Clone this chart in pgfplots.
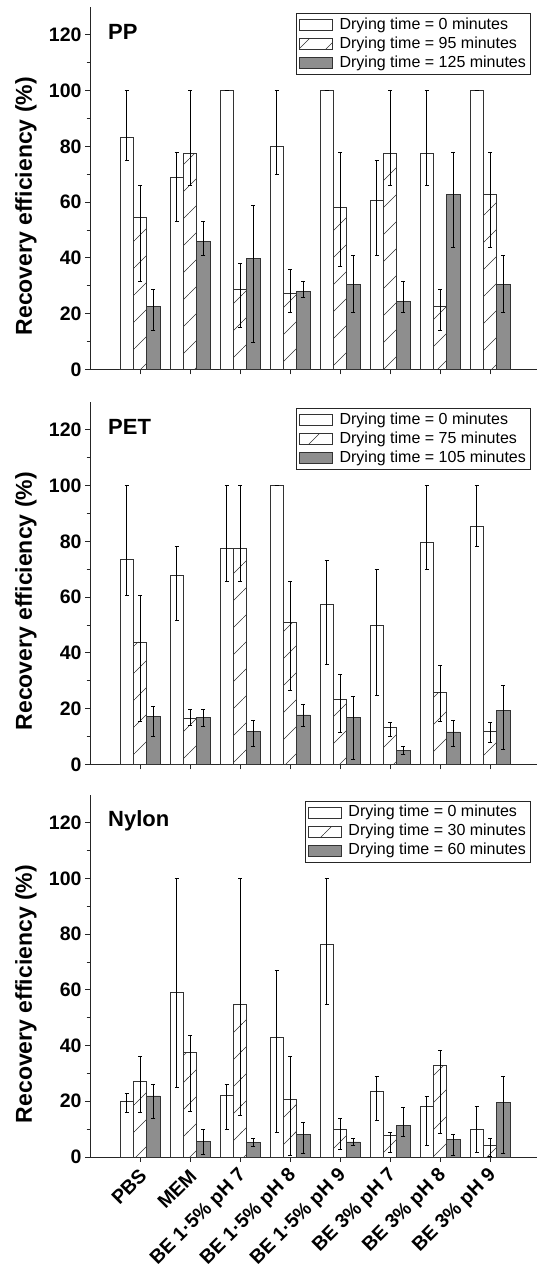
\documentclass[border=0pt]{standalone}
\usepackage{fontspec}
\setmainfont{Liberation Sans}
\usepackage{pgfplots}
\usepackage{pgfplotstable}
\pgfplotsset{compat=1.18}
\usetikzlibrary{patterns.meta}
\definecolor{barfill}{HTML}{8E8E8E}
\definecolor{edge}{HTML}{333333}
\tikzdeclarepattern{name=sparseNE, type=uncolored,
  bounding box={(0pt,0pt) and (27pt,27pt)}, tile size={(27pt,27pt)},
  code={\draw[line width=0.6pt] (-1pt,-1pt) -- (28pt,28pt);}}

% PP
\pgfplotstableread{
x y lo hi
0 83.3 75.1 100
1 68.7 53.0 78.0
2 100 100 100
3 79.9 69.9 100
4 100 100 100
5 60.6 40.8 75.1
6 77.3 65.9 100
7 100 100 100
}\ppA
\pgfplotstableread{
x y lo hi
0 54.5 31.6 65.9
1 77.3 65.9 100
2 28.6 15.0 37.9
3 27.2 20.6 35.8
4 58.1 37.0 78.0
5 77.3 65.9 100
6 22.6 13.8 28.6
7 62.6 43.9 78.0
}\ppB
\pgfplotstableread{
x y lo hi
0 22.6 13.8 28.6
1 46.0 40.8 53.0
2 39.9 9.7 58.8
3 27.8 25.8 31.7
4 30.5 20.6 40.8
5 24.4 20.6 31.7
6 62.6 43.9 78.0
7 30.5 20.6 40.8
}\ppC
% PET
\pgfplotstableread{
x y lo hi
0 73.7 60.6 100
1 67.7 51.6 78.2
2 77.3 65.8 100
3 100 100 100
4 57.3 35.9 73.3
5 49.9 24.9 69.8
6 79.8 69.8 100
7 85.4 78.2 100
}\petA
\pgfplotstableread{
x y lo hi
0 43.9 15.3 60.6
1 16.5 13.8 19.7
2 77.3 65.8 100
3 51.0 26.6 65.8
4 23.3 11.6 32.3
5 13.1 9.9 15.0
6 25.7 15.5 35.4
7 11.9 7.8 15.0
}\petB
\pgfplotstableread{
x y lo hi
0 17.3 9.9 20.9
1 16.7 13.5 19.7
2 11.7 6.6 15.6
3 17.7 13.7 21.5
4 16.8 1.9 24.5
5 5.1 3.6 6.3
6 11.6 6.6 15.6
7 19.2 5.4 28.4
}\petC
% Nylon
\pgfplotstableread{
x y lo hi
0 19.8 15.9 22.8
1 59.1 24.9 100
2 22.1 9.9 26.0
3 42.9 8.8 67.1
4 76.4 54.7 100
5 23.5 13.3 28.8
6 18.2 4.2 21.7
7 10.0 1.5 18.2
}\nyA
\pgfplotstableread{
x y lo hi
0 27.3 15.9 36.2
1 37.5 16.3 43.7
2 54.9 15.0 100
3 20.7 0.7 36.2
4 10.0 2.6 13.7
5 7.7 1.5 8.8
6 32.8 8.5 38.3
7 4.2 0.4 6.7
}\nyB
\pgfplotstableread{
x y lo hi
0 21.9 13.8 26.0
1 5.6 1.0 9.9
2 5.1 3.7 6.7
3 8.1 1.3 12.4
4 5.4 4.2 6.6
5 11.4 7.5 17.8
6 6.2 0.6 8.1
7 19.5 1.3 28.8
}\nyC

\pgfplotsset{
  panel/.style={
    anchor=south west, scale only axis, width=447pt, height=362.3pt,
    xmin=-1, xmax=7.94, ymin=0, ymax=130,
    axis lines*=left, axis line style={-, line width=0.8pt, black!85},
    ybar, bar width=0.2667,
    xtick={0,...,7}, ytick={0,20,...,120}, minor ytick={10,30,...,110},
    tick align=outside, major tick length=5pt, minor tick length=3.5pt,
    tick style={black!85, line width=0.8pt},
    /pgf/number format/assume math mode=true,
    ticklabel style={font=\bfseries\fontsize{19.5}{19.5}\selectfont},
    ylabel={Recovery efficiency (\%)},
    ylabel style={font=\bfseries\fontsize{23}{23}\selectfont, at={(axis description cs:-0.1298,0.45)}, anchor=base},
    legend style={at={(0.985,0.983)}, anchor=north east, draw=black!85, line width=0.8pt,
      font=\fontsize{16}{16}\selectfont, inner sep=2pt, row sep=0pt,
      nodes={inner sep=2pt, text height=11.5pt, text depth=3.5pt},
      /tikz/every odd column/.append style={column sep=5pt}},
    legend cell align=left,
    legend image code/.code={\draw[#1, line width=0.8pt] (0pt,-5.5pt) rectangle (33pt,5.5pt);},
    error bars/error bar style={black, line width=0.7pt},
    error bars/error mark options={rotate=90, mark size=2pt, line width=0.7pt, black},
  },
  serA/.style={draw=edge, fill=white, line width=0.8pt, bar shift=-0.2667,
    error bars/.cd, y dir=both, y explicit},
  serB/.style={draw=edge, pattern=sparseNE, pattern color=edge, line width=0.8pt, bar shift=0,
    error bars/.cd, y dir=both, y explicit},
  serC/.style={draw=edge, fill=barfill, line width=0.8pt, bar shift=0.2667,
    error bars/.cd, y dir=both, y explicit},
  /pgfplots/table/tab/.style={x=x, y=y, y error plus expr={\thisrow{hi}-\thisrow{y}}, y error minus expr={\thisrow{y}-\thisrow{lo}}},
}

\begin{document}
\begin{tikzpicture}
\useasboundingbox (0pt,0pt) rectangle (537pt,-1266pt);

\begin{axis}[panel, at={(90pt,-369.3pt)}, xticklabels={}]
\addplot[serA] table[tab] {\ppA};
\addplot[serB] table[tab] {\ppB};
\addplot[serC] table[tab] {\ppC};
\legend{Drying time = 0 minutes, Drying time = 95 minutes, Drying time = 125 minutes}
\node[anchor=base west, font=\bfseries\fontsize{22}{22}\selectfont, inner sep=0pt] at (axis cs:-0.64,118.5) {PP};
\end{axis}

\begin{axis}[panel, at={(90pt,-764.3pt)}, xticklabels={}]
\addplot[serA] table[tab] {\petA};
\addplot[serB] table[tab] {\petB};
\addplot[serC] table[tab] {\petC};
\legend{Drying time = 0 minutes, Drying time = 75 minutes, Drying time = 105 minutes}
\node[anchor=base west, font=\bfseries\fontsize{22}{22}\selectfont, inner sep=0pt] at (axis cs:-0.64,118.5) {PET};
\end{axis}

\begin{axis}[panel, at={(90pt,-1157pt)},
  xticklabels={PBS, MEM, BE 1·5\% pH 7, BE 1·5\% pH 8, BE 1·5\% pH 9, BE 3\% pH 7, BE 3\% pH 8, BE 3\% pH 9},
  xticklabel style={yshift=-10pt, xshift=4pt, rotate=45, anchor=east, inner sep=1pt, font=\bfseries\fontsize{19.5}{19.5}\selectfont}]
\addplot[serA] table[tab] {\nyA};
\addplot[serB] table[tab] {\nyB};
\addplot[serC] table[tab] {\nyC};
\legend{Drying time = 0 minutes, Drying time = 30 minutes, Drying time = 60 minutes}
\node[anchor=base west, font=\bfseries\fontsize{22}{22}\selectfont, inner sep=0pt] at (axis cs:-0.64,118.5) {Nylon};
\end{axis}
\end{tikzpicture}
\end{document}
